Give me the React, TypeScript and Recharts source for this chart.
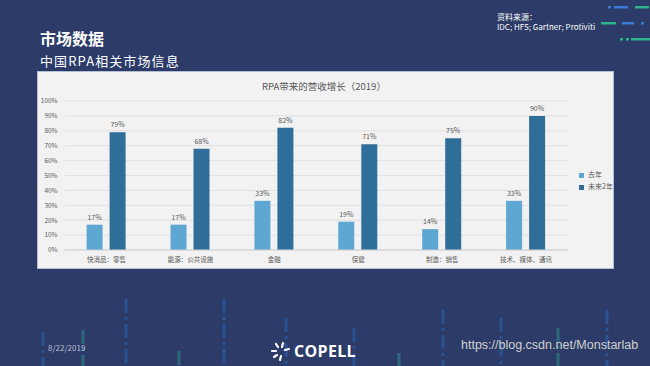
import { BarChart, Bar, XAxis, YAxis, CartesianGrid, Legend, LabelList } from 'recharts'

const categories = ['快消品：零售', '能源：公共设施', '金融', '保健', '制造：销售', '技术、媒体、通讯']
const lastYear = [17, 17, 33, 19, 14, 33]
const nextTwoYears = [79, 68, 82, 71, 75, 90]
const yTicks = [0, 10, 20, 30, 40, 50, 60, 70, 80, 90, 100]

const data = categories.map((name, i) => ({
  name,
  lastYear: lastYear[i],
  nextTwoYears: nextTwoYears[i]
}))

const font = '"Noto Sans CJK SC", "Noto Sans", sans-serif'
const grey = '#595959'

// bottom decoration: x, top y, colour
const stripes = [
  [43, 332, '#2d5ea3'], [83, 330, '#2e7d86'], [126, 299, '#2d5ea3'], [179, 351, '#2e7d86'],
  [224, 299, '#2d5ea3'], [286, 318, '#2d5ea3'], [354, 328, '#2d5ea3'], [399, 353, '#2e7d86'],
  [443, 310, '#2d5ea3'], [501, 318, '#2d5ea3'], [558, 328, '#2e7d86'], [607, 310, '#2d5ea3']
] as const

export default function App() {
  return (
    <div
      style={{
        position: 'absolute',
        left: 0,
        top: 0,
        width: 650,
        height: 366,
        overflow: 'hidden',
        background: '#2c3b67',
        fontFamily: font
      }}
    >
      <svg width={650} height={366} style={{ position: 'absolute', left: 0, top: 0 }}>
        {stripes.map(([x, y, c], i) => (
          <line key={i} x1={x} x2={x} y1={y} y2={366} stroke={c} strokeWidth={3} strokeDasharray="14 4 3 4" opacity={0.7} />
        ))}
        {/* top right dashes */}
        <rect x={608} y={6} width={3} height={2.5} fill="#3a7bd5" />
        <rect x={614} y={6} width={14} height={2.5} fill="#3a7bd5" />
        <rect x={635} y={6} width={14} height={2.5} fill="#2bb38a" />
        <rect x={601} y={22} width={15} height={2.5} fill="#2bb38a" />
        <rect x={622} y={22} width={12} height={2.5} fill="#3a7bd5" />
        <rect x={641} y={22} width={3} height={2.5} fill="#3a7bd5" />
        <rect x={620} y={38} width={3} height={2.5} fill="#2bb38a" />
        <rect x={626} y={38} width={3} height={2.5} fill="#2bb38a" />
        <rect x={631} y={38} width={19} height={2.5} fill="#2bb38a" />
        {/* logo mark */}
        <g stroke="#ffffff" strokeWidth={2.2} strokeLinecap="round">
          <line x1={276} y1={344} x2={278} y2={347} />
          <line x1={283} y1={343} x2={282} y2={347} />
          <line x1={272} y1={351} x2={276} y2={351} />
          <line x1={285} y1={350} x2={289} y2={349} />
          <line x1={274} y1={357} x2={277} y2={355} />
          <line x1={281} y1={356} x2={280} y2={360} />
        </g>
      </svg>

      <div style={{ position: 'absolute', left: 40, top: 26, color: '#fff', fontSize: 16, fontWeight: 700 }}>市场数据</div>
      <div style={{ position: 'absolute', left: 40, top: 51, color: '#fff', fontSize: 13, letterSpacing: 1.1 }}>
        中国RPA相关市场信息
      </div>
      <div style={{ position: 'absolute', left: 497, top: 12, color: '#fff', fontSize: 8, lineHeight: '10px' }}>
        资料来源：
        <br />
        IDC; HFS; Gartner; Protiviti
      </div>

      <div
        style={{
          position: 'absolute',
          left: 37,
          top: 71,
          width: 577,
          height: 198,
          background: '#f2f2f2',
          border: '1px solid #b4bfd6',
          boxSizing: 'border-box'
        }}
      />
      <div
        style={{
          position: 'absolute',
          left: 262,
          top: 79,
          color: grey,
          fontSize: 9.5,
          whiteSpace: 'nowrap'
        }}
      >
        RPA带来的营收增长（2019）
      </div>

      <div style={{ position: 'absolute', left: 37, top: 71 }}>
        <BarChart
          width={577}
          height={198}
          data={data}
          margin={{ top: 30, right: 0, bottom: 4, left: 0 }}
          barSize={16}
          barGap={7}
        >
          <CartesianGrid vertical={false} stroke="#dcdcdc" strokeWidth={0.8} />
          <XAxis
            dataKey="name"
            height={15}
            tickLine={false}
            tickSize={0}
            tickMargin={7}
            axisLine={{ stroke: '#d0d0d0' }}
            interval={0}
            tick={{ fontSize: 6.5, fill: grey, fontFamily: font }}
          />
          <YAxis
            width={27.6}
            domain={[0, 100]}
            ticks={yTicks}
            interval={0}
            tickLine={false}
            axisLine={false}
            tickSize={0}
            tickMargin={7}
            tickFormatter={(v: number) => `${v}%`}
            tick={{ fontSize: 6.5, fill: grey, fontFamily: font }}
          />
          <Legend
            layout="vertical"
            align="right"
            verticalAlign="top"
            iconType="square"
            iconSize={5}
            formatter={(v: string) => <span style={{ color: grey, whiteSpace: 'nowrap' }}>{v}</span>}
            wrapperStyle={{
              top: 97,
              width: 46,
              paddingLeft: 11,
              boxSizing: 'border-box',
              fontSize: 7,
              lineHeight: '12px',
              whiteSpace: 'nowrap'
            }}
          />
          <Bar dataKey="lastYear" name="去年" fill="#5ea7d3" isAnimationActive={false}>
            <LabelList
              dataKey="lastYear"
              position="top"
              offset={5}
              formatter={(v: number) => `${v}%`}
              style={{ fontSize: 7, fill: grey, fontFamily: font }}
            />
          </Bar>
          <Bar dataKey="nextTwoYears" name="未来2年" fill="#2f6e98" isAnimationActive={false}>
            <LabelList
              dataKey="nextTwoYears"
              position="top"
              offset={5}
              formatter={(v: number) => `${v}%`}
              style={{ fontSize: 7, fill: grey, fontFamily: font }}
            />
          </Bar>
        </BarChart>
      </div>

      <div style={{ position: 'absolute', left: 48, top: 342, color: '#b8bfd2', fontSize: 8 }}>8/22/2019</div>
      <div
        style={{
          position: 'absolute',
          left: 294,
          top: 340,
          color: '#fff',
          fontSize: 16,
          fontWeight: 700,
          fontFamily: '"Open Sans", sans-serif',
          letterSpacing: 0.3
        }}
      >
        COPELL
      </div>
      <div
        style={{
          position: 'absolute',
          left: 461,
          top: 338,
          color: '#d0d0d0',
          fontSize: 12.5,
          fontFamily: '"Liberation Sans", Arial, sans-serif'
        }}
      >
        https://blog.csdn.net/Monstarlab
      </div>
    </div>
  )
}
